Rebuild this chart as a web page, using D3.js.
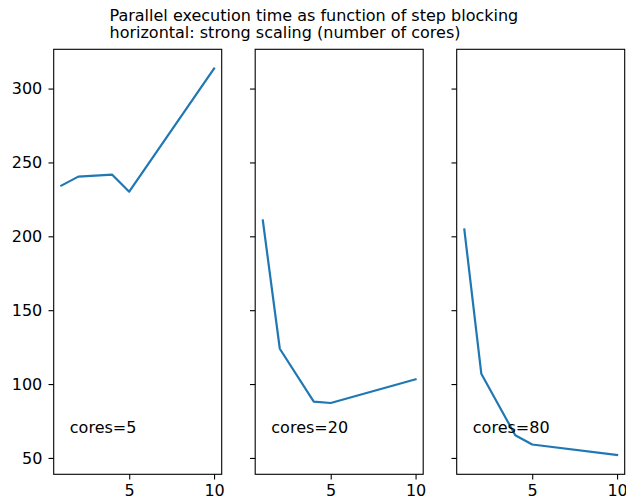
<!DOCTYPE html>
<html>
<head>
<meta charset="utf-8">
<script src="https://cdn.jsdelivr.net/npm/d3@7"></script>
<style>
  body { margin: 0; background: #fff; }
  text { font-family: "DejaVu Sans", sans-serif; }
</style>
</head>
<body>
<svg id="chart" width="626" height="500"></svg>
<script>
// step blocking values (x)
const steps = [1, 2, 4, 5, 10];
const coreCounts = [5, 20, 80];
// execution time per core count
const time5 = [234.3, 240.4, 241.7, 230.2, 313.5];
const time20 = [210.7, 123.9, 88.1, 87.2, 103.2];
const time80 = [204.6, 107.0, 65.4, 59.1, 52.0];
const xTicks = [5, 10];
const yTicks = [50, 100, 150, 200, 250, 300];
const titleLines = [
  'Parallel execution time as function of step blocking',
  'horizontal: strong scaling (number of cores)',
];

const series = [time5, time20, time80];
const svg = d3.select('#chart');
const fontSize = 16;
const panelLefts = [53.7, 255.2, 456.7];
const panelW = 168;
const plotTop = 49.3;
const plotBottom = 474.3;

const allVals = series.flat();
const yMin = d3.min(allVals);
const yMax = d3.max(allVals);
const yPad = (yMax - yMin) * 0.05;
const y = d3.scaleLinear().domain([yMin - yPad, yMax + yPad]).range([plotBottom, plotTop]);

const xPad = (d3.max(steps) - d3.min(steps)) * 0.05;

svg.selectAll('text.title')
  .data(titleLines)
  .join('text')
  .attr('class', 'title')
  .attr('x', 109.5)
  .attr('y', (d, i) => 21 + i * 16.6)
  .attr('font-size', fontSize)
  .text((d) => d);

series.forEach((vals, i) => {
  const left = panelLefts[i];
  const x = d3.scaleLinear()
    .domain([d3.min(steps) - xPad, d3.max(steps) + xPad])
    .range([left, left + panelW]);
  const g = svg.append('g');

  const line = d3.line()
    .x((d, j) => x(steps[j]))
    .y((d) => y(d));
  g.append('path')
    .datum(vals)
    .attr('fill', 'none')
    .attr('stroke', '#1f77b4')
    .attr('stroke-width', 2.2)
    .attr('stroke-linejoin', 'round')
    .attr('stroke-linecap', 'square')
    .attr('d', line);

  g.append('text')
    .attr('x', x(1.5))
    .attr('y', y(67))
    .attr('font-size', fontSize)
    .text(`cores=${coreCounts[i]}`);

  const xAxis = g.append('g')
    .attr('transform', `translate(0,${plotBottom})`)
    .call(d3.axisBottom(x).tickValues(xTicks).tickSize(5.2).tickPadding(5));
  const yAxis = g.append('g')
    .attr('transform', `translate(${left},0)`)
    .call(d3.axisLeft(y).tickValues(yTicks).tickSize(5.2).tickPadding(6.2)
      .tickFormat(i === 0 ? d3.format('d') : () => ''));
  [xAxis, yAxis].forEach((a) => {
    a.select('.domain').remove();
    a.selectAll('line').attr('stroke', '#000').attr('stroke-width', 1.1);
    a.selectAll('text')
      .attr('font-size', fontSize)
      .attr('font-family', '"DejaVu Sans", sans-serif')
      .attr('fill', '#000');
  });

  g.append('rect')
    .attr('x', left)
    .attr('y', plotTop)
    .attr('width', panelW)
    .attr('height', plotBottom - plotTop)
    .attr('fill', 'none')
    .attr('stroke', '#000')
    .attr('stroke-width', 1.1);
});
</script>
</body>
</html>
